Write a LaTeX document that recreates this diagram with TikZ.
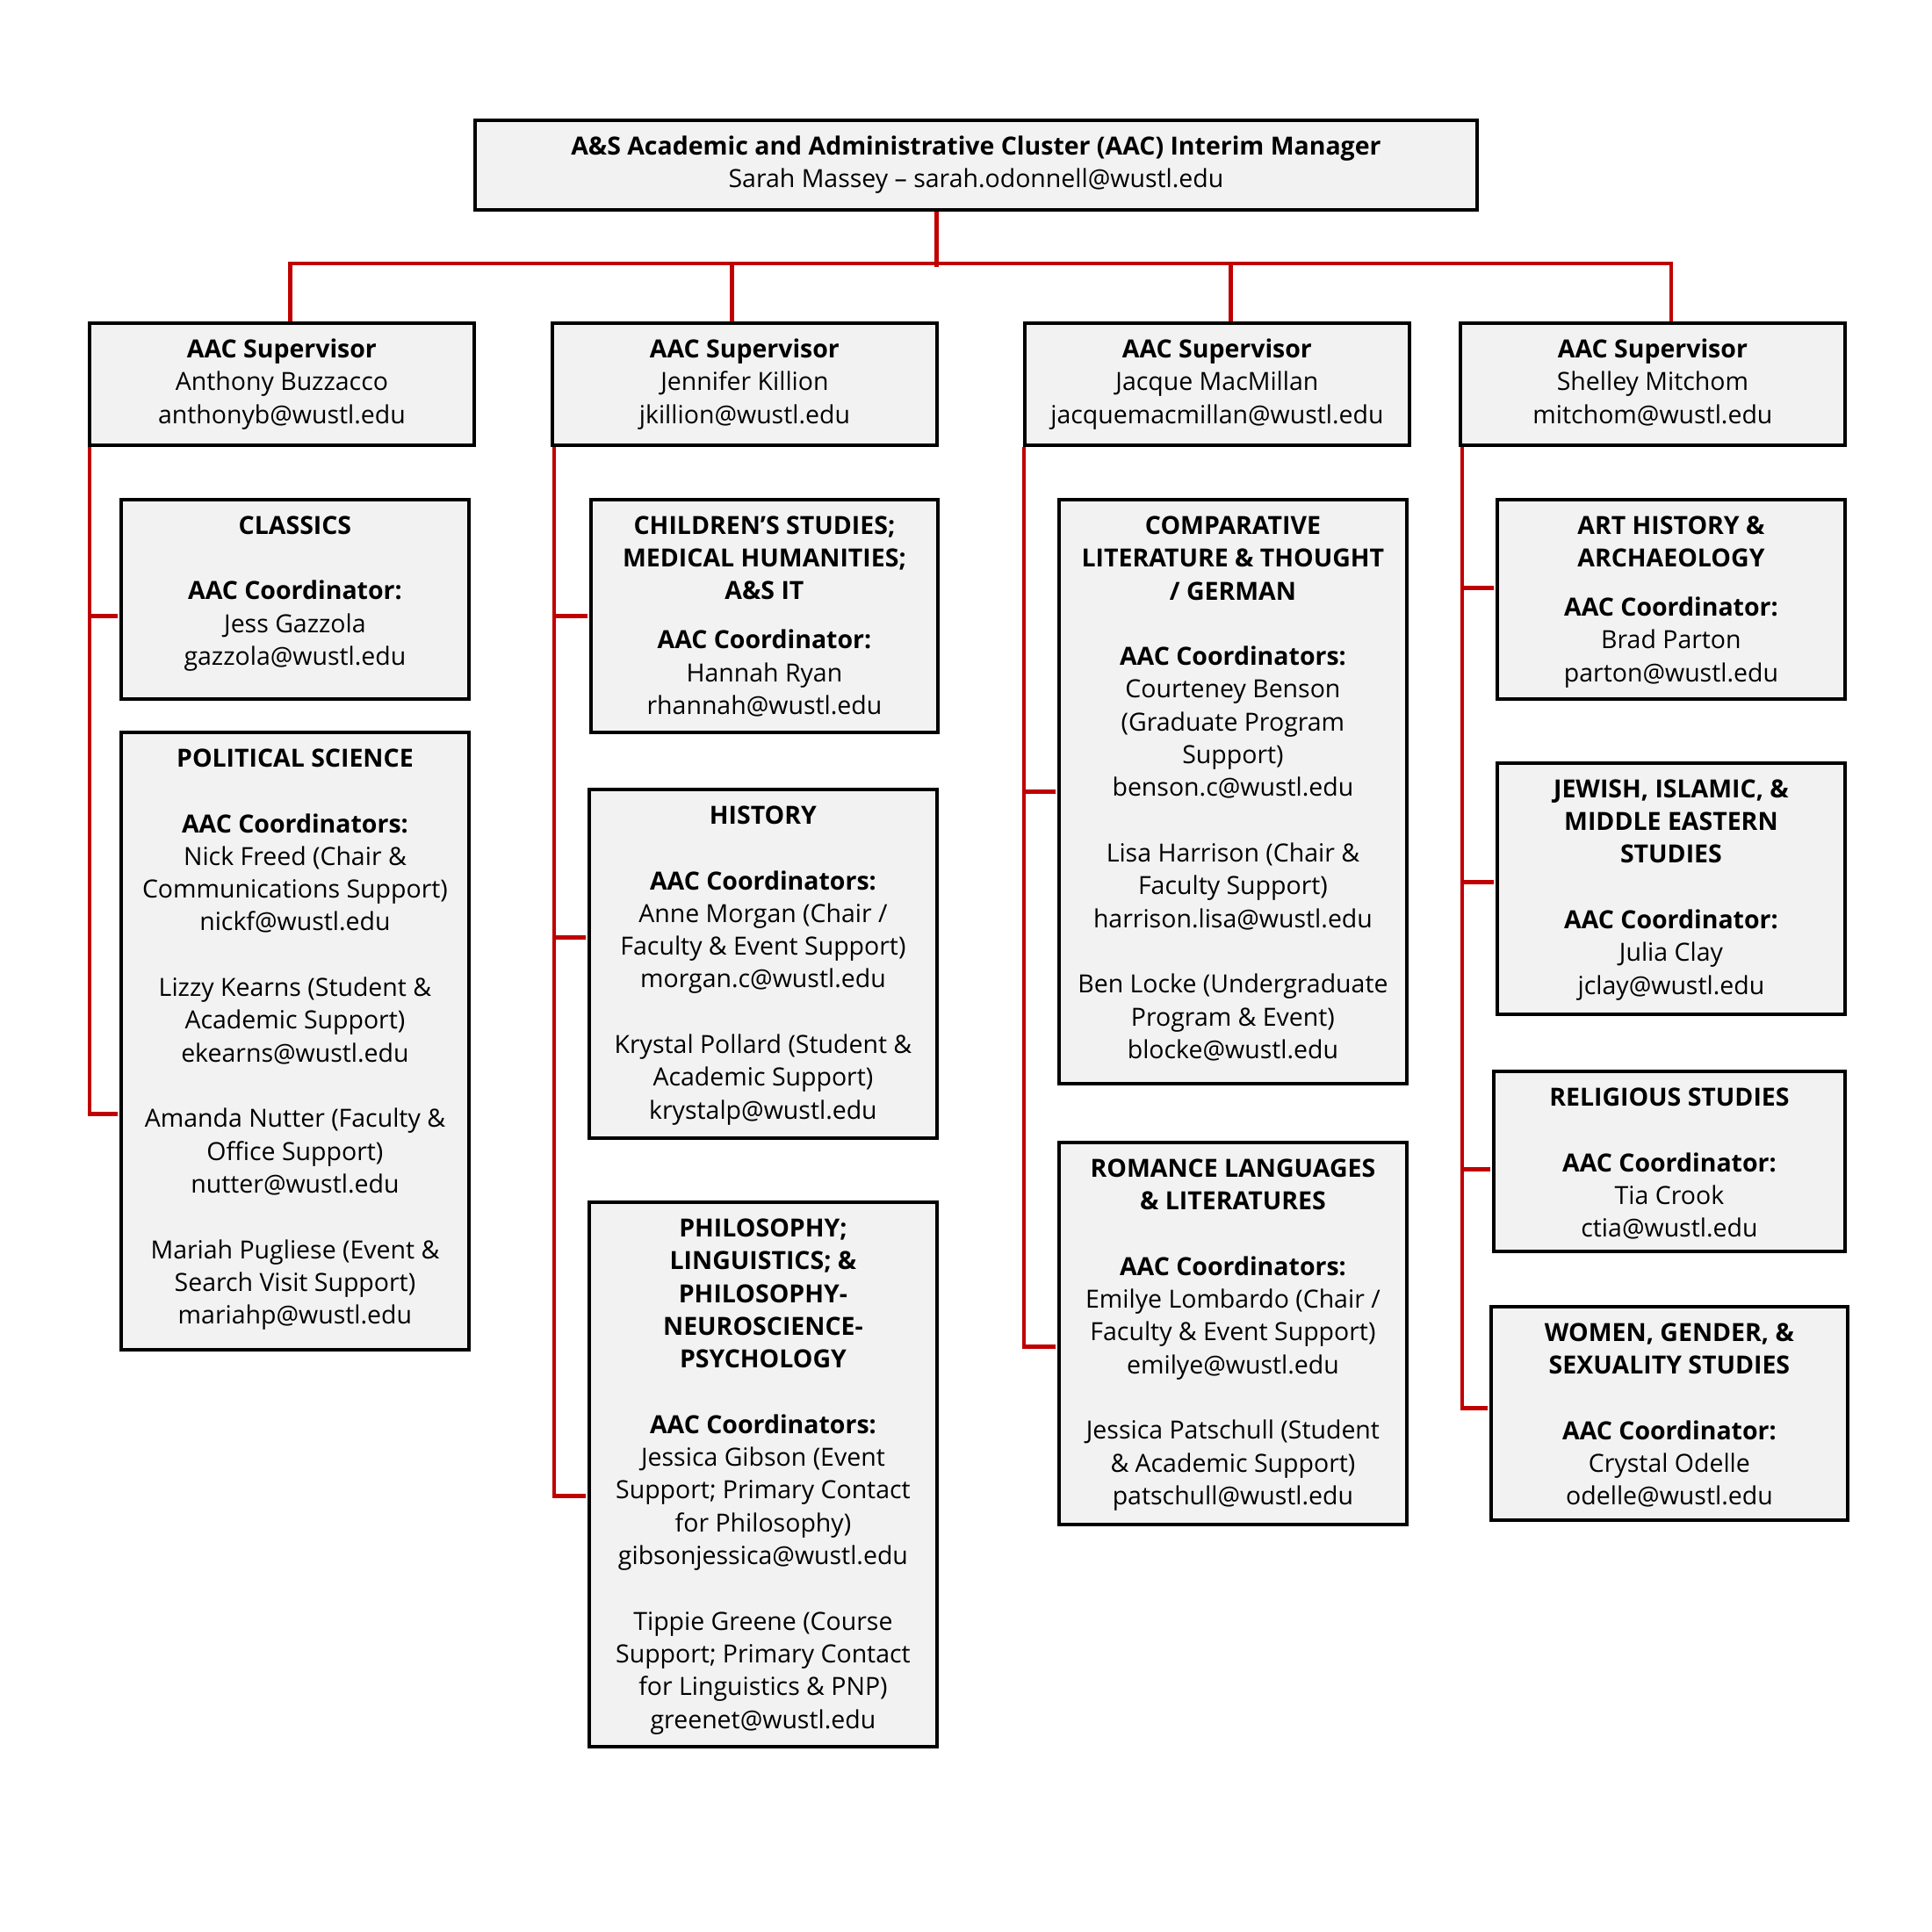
\documentclass[tikz,border=0pt]{standalone}
\usepackage{fontspec}
\setmainfont{Open Sans}
\usetikzlibrary{positioning}
\definecolor{aacred}{RGB}{192,0,0}
\definecolor{boxgray}{RGB}{242,242,242}

\begin{document}
\begin{tikzpicture}[
  box/.style={draw=black, line width=1.1pt, fill=boxgray, inner sep=0pt, anchor=north west},
  txt/.style={align=center, inner sep=0pt, font=\fontsize{8.1}{10.62}\selectfont},
  link/.style={draw=aacred, line width=1.4pt},
]
  \useasboundingbox (0,0) rectangle (22,-22);

  % manager
  \node[box, txt, minimum width=11.41cm, minimum height=1.02cm] (mgr) at (5.39,-1.35)
    {\textbf{A\&S Academic and Administrative Cluster (AAC) Interim Manager}\\Sarah Massey – sarah.odonnell@wustl.edu};

  % supervisors
  \foreach \n/\x/\who/\mail in {1/1.00/Anthony Buzzacco/anthonyb, 2/6.27/Jennifer Killion/jkillion,
      3/11.65/Jacque MacMillan/jacquemacmillan, 4/16.61/Shelley Mitchom/mitchom} {
    \node[box, txt, minimum width=4.38cm, minimum height=1.39cm] (sup\n) at (\x,-3.66)
      {\strut\textbf{AAC Supervisor}\\\who\\\mail @wustl.edu\strut};
  }

  \draw[link] ([xshift=-0.445cm]mgr.south) -- ++(0,-0.63);
  \draw[link] ([xshift=0.095cm]sup1.north) -- ++(0,0.66) -| ([xshift=0.21cm]sup4.north);
  \draw[link] ([xshift=-0.145cm]sup2.north) -- ++(0,0.66);
  \draw[link] ([xshift=0.155cm]sup3.north) -- ++(0,0.66);

  % column 1
  \node[box, minimum width=3.96cm, minimum height=2.27cm] (classics) at (1.36,-5.67) {};
  \node[txt, below=0.2cm of classics.north] (classics-t)
    {\textbf{CLASSICS}\\[10.62pt]\textbf{AAC Coordinator:}\\Jess Gazzola\\gazzola@wustl.edu};

  \node[box, minimum width=3.96cm, minimum height=7.03cm] (polsci) at (1.36,-8.32) {};
  \node[txt, below=0.2cm of polsci.north] (polsci-t)
    {\textbf{POLITICAL SCIENCE}\\[10.62pt]\textbf{AAC Coordinators:}\\Nick Freed (Chair \&\\Communications Support)\\nickf@wustl.edu\\[10.62pt]
     Lizzy Kearns (Student \&\\Academic Support)\\ekearns@wustl.edu\\[10.62pt]
     Amanda Nutter (Faculty \&\\Office Support)\\nutter@wustl.edu\\[10.62pt]
     Mariah Pugliese (Event \&\\Search Visit Support)\\mariahp@wustl.edu};

  % column 2
  \node[box, minimum width=3.95cm, minimum height=2.65cm] (childst) at (6.71,-5.67) {};
  \node[txt, below=0.2cm of childst.north] (childst-t)
    {\textbf{CHILDREN’S STUDIES;}\\\textbf{MEDICAL HUMANITIES;}\\\textbf{A\&S IT}\\[5.3pt]
     \textbf{AAC Coordinator:}\\Hannah Ryan\\rhannah@wustl.edu};

  \node[box, minimum width=3.96cm, minimum height=3.97cm] (history) at (6.69,-8.97) {};
  \node[txt, below=0.2cm of history.north] (history-t)
    {\textbf{HISTORY}\\[10.62pt]\textbf{AAC Coordinators:}\\Anne Morgan (Chair /\\Faculty \& Event Support)\\morgan.c@wustl.edu\\[10.62pt]
     Krystal Pollard (Student \&\\Academic Support)\\krystalp@wustl.edu};

  \node[box, minimum width=3.96cm, minimum height=6.20cm] (philos) at (6.69,-13.67) {};
  \node[txt, below=0.2cm of philos.north] (philos-t)
    {\textbf{PHILOSOPHY;}\\\textbf{LINGUISTICS; \&}\\\textbf{PHILOSOPHY-}\\\textbf{NEUROSCIENCE-}\\\textbf{PSYCHOLOGY}\\[10.62pt]
     \textbf{AAC Coordinators:}\\Jessica Gibson (Event\\Support; Primary Contact\\for Philosophy)\\gibsonjessica@wustl.edu\\[10.62pt]
     Tippie Greene (Course\\Support; Primary Contact\\for Linguistics \& PNP)\\greenet@wustl.edu};

  % column 3
  \node[box, minimum width=3.96cm, minimum height=6.65cm] (complit) at (12.04,-5.67) {};
  \node[txt, below=0.2cm of complit.north] (complit-t)
    {\textbf{COMPARATIVE}\\\textbf{LITERATURE \& THOUGHT}\\\textbf{/ GERMAN}\\[10.62pt]
     \textbf{AAC Coordinators:}\\Courteney Benson\\(Graduate Program\\Support)\\benson.c@wustl.edu\\[10.62pt]
     Lisa Harrison (Chair \&\\Faculty Support)\\harrison.lisa@wustl.edu\\[10.62pt]
     Ben Locke (Undergraduate\\Program \& Event)\\blocke@wustl.edu};

  \node[box, minimum width=3.96cm, minimum height=4.35cm] (romance) at (12.04,-12.99) {};
  \node[txt, below=0.2cm of romance.north] (romance-t)
    {\textbf{ROMANCE LANGUAGES}\\\textbf{\& LITERATURES}\\[10.62pt]
     \textbf{AAC Coordinators:}\\Emilye Lombardo (Chair /\\Faculty \& Event Support)\\emilye@wustl.edu\\[10.62pt]
     Jessica Patschull (Student\\\& Academic Support)\\patschull@wustl.edu};

  % column 4
  \node[box, minimum width=3.96cm, minimum height=2.27cm] (arthist) at (17.03,-5.67) {};
  \node[txt, below=0.2cm of arthist.north] (arthist-t)
    {\textbf{ART HISTORY \&}\\\textbf{ARCHAEOLOGY}\\[5.3pt]
     \textbf{AAC Coordinator:}\\Brad Parton\\parton@wustl.edu};

  \node[box, minimum width=3.96cm, minimum height=2.86cm] (jewish) at (17.03,-8.67) {};
  \node[txt, below=0.2cm of jewish.north] (jewish-t)
    {\textbf{JEWISH, ISLAMIC, \&}\\\textbf{MIDDLE EASTERN}\\\textbf{STUDIES}\\[10.62pt]
     \textbf{AAC Coordinator:}\\Julia Clay\\jclay@wustl.edu};

  \node[box, minimum width=4.00cm, minimum height=2.05cm] (relig) at (16.99,-12.18) {};
  \node[txt, below=0.2cm of relig.north] (relig-t)
    {\textbf{RELIGIOUS STUDIES}\\[10.62pt]
     \textbf{AAC Coordinator:}\\Tia Crook\\ctia@wustl.edu};

  \node[box, minimum width=4.06cm, minimum height=2.43cm] (wgss) at (16.96,-14.86) {};
  \node[txt, below=0.2cm of wgss.north] (wgss-t)
    {\textbf{WOMEN, GENDER, \&}\\\textbf{SEXUALITY STUDIES}\\[10.62pt]
     \textbf{AAC Coordinator:}\\Crystal Odelle\\odelle@wustl.edu};

  % trunks and branches
  \coordinate (t1) at ([xshift=0.02cm]sup1.south west);
  \coordinate (t2) at ([xshift=0.04cm]sup2.south west);
  \coordinate (t3) at ([xshift=0.01cm]sup3.south west);
  \coordinate (t4) at ([xshift=0.04cm]sup4.south west);
  \foreach \d/\t/\dy in {classics/t1/-0.195, polsci/t1/-0.835,
      childst/t2/0, history/t2/0.295, philos/t2/-0.25,
      complit/t3/0, romance/t3/-0.155,
      arthist/t4/0.125, jewish/t4/0.07, relig/t4/-0.095, wgss/t4/0.055}
    \draw[link] (\t) |- ([yshift=\dy cm, xshift=-0.5pt]\d.west);
\end{tikzpicture}
\end{document}
